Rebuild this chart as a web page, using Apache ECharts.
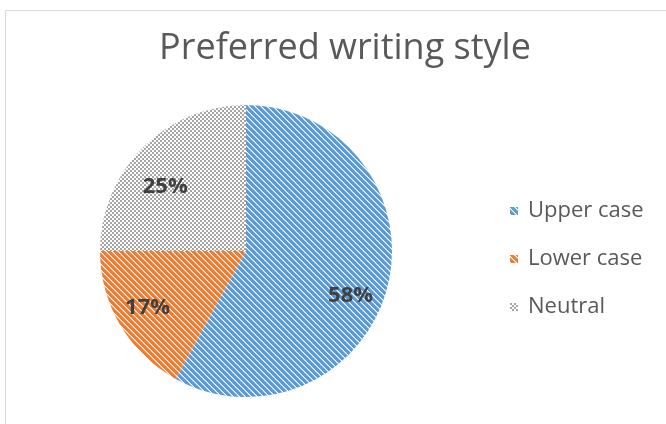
<!DOCTYPE html>
<html>
<head>
<meta charset="utf-8">
<script src="https://cdn.jsdelivr.net/npm/echarts@6/dist/echarts.min.js"></script>
<style>
  html, body { margin: 0; padding: 0; background: #fff; }
  #chart { width: 666px; height: 424px; }
</style>
</head>
<body>
<div id="chart"></div>
<script>
// data
var titleText = 'Preferred writing style';
var categories = ['Upper case', 'Lower case', 'Neutral'];
var values = [58, 17, 25];
var baseColors = ['#5B9BD5', '#ED7D31', '#A5A5A5'];
var lightColors = ['#ADCDEA', '#F6BE98', '#D2D2D2'];
// label nudges from the default inside spot
var labelOffsets = [[31, 26], [-33, 18], [-27, -11]];

// diagonal stripe tile, "\" direction
function stripeTile(color, light) {
  var c = document.createElement('canvas');
  c.width = 6; c.height = 6;
  var ctx = c.getContext('2d');
  ctx.fillStyle = '#fff';
  ctx.fillRect(0, 0, 6, 6);
  for (var y = 0; y < 6; y++) {
    for (var x = 0; x < 6; x++) {
      var k = ((x - y) % 6 + 6) % 6;
      if (k < 4) { ctx.fillStyle = color; ctx.fillRect(x, y, 1, 1); }
      else if (k == 4) { ctx.fillStyle = light; ctx.fillRect(x, y, 1, 1); }
    }
  }
  return c;
}

// small checker tile
function checkTile(color) {
  var c = document.createElement('canvas');
  c.width = 4; c.height = 4;
  var ctx = c.getContext('2d');
  ctx.fillStyle = '#fff';
  ctx.fillRect(0, 0, 4, 4);
  ctx.fillStyle = color;
  ctx.fillRect(0, 0, 2, 2);
  ctx.fillRect(2, 2, 2, 2);
  return c;
}

var tiles = [
  stripeTile(baseColors[0], lightColors[0]),
  stripeTile(baseColors[1], lightColors[1]),
  checkTile(baseColors[2])
];

var pieData = [];
for (var i = 0; i < categories.length; i++) {
  pieData.push({
    name: categories[i],
    value: values[i],
    itemStyle: { color: { image: tiles[i], repeat: 'repeat' } },
    label: { offset: labelOffsets[i] }
  });
}

var myChart = echarts.init(document.getElementById('chart'), null, { renderer: 'canvas' });
var option = {
  animation: false,
  backgroundColor: '#fff',
  title: {
    text: titleText,
    left: 340,
    textAlign: 'center',
    top: 26,
    textStyle: {
      fontFamily: 'Open Sans',
      fontSize: 36,
      fontWeight: 'normal',
      color: '#595959'
    }
  },
  graphic: [{
    type: 'rect',
    shape: { x: 5.5, y: 10.5, width: 700, height: 500 },
    style: { fill: 'none', stroke: '#D9D9D9', lineWidth: 1 },
    silent: true
  }],
  legend: {
    orient: 'vertical',
    left: 505,
    top: 195,
    itemWidth: 8,
    itemHeight: 8,
    itemGap: 26,
    icon: 'rect',
    textStyle: {
      fontFamily: 'Open Sans',
      fontSize: 22,
      color: '#595959',
      padding: [0, 0, 0, 5]
    },
    data: categories
  },
  series: [{
    type: 'pie',
    center: [246, 251],
    radius: 146,
    startAngle: 90,
    clockwise: true,
    data: pieData,
    label: {
      show: true,
      position: 'inside',
      formatter: '{d}%',
      fontFamily: 'Open Sans',
      fontSize: 22,
      fontWeight: 'bold',
      color: '#404040'
    },
    labelLine: { show: false },
    itemStyle: { borderWidth: 0 },
    emphasis: { disabled: true }
  }]
};
myChart.setOption(option);
</script>
</body>
</html>
